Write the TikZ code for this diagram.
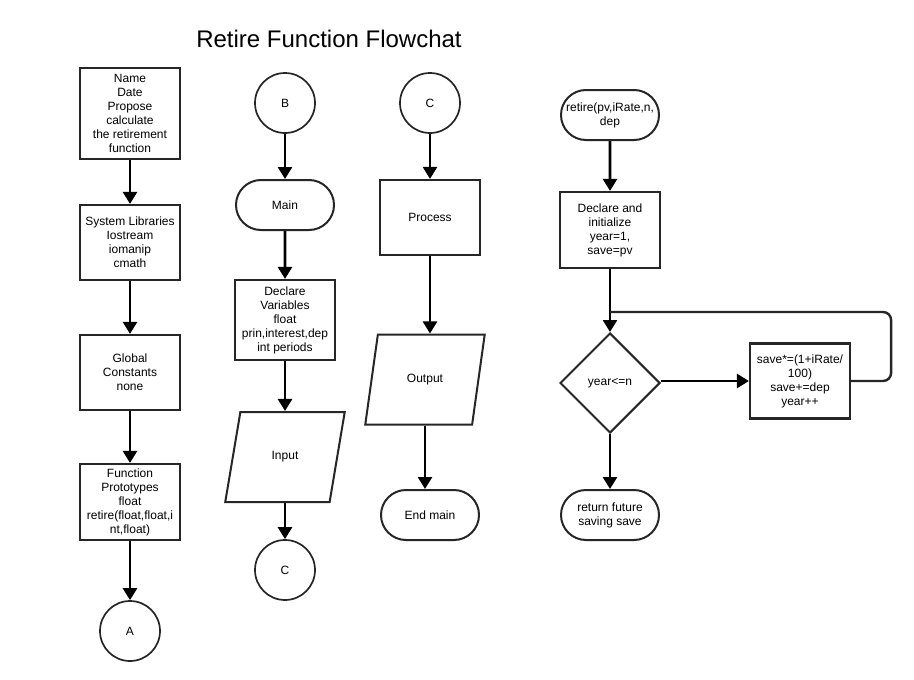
\documentclass[tikz,border=0pt]{standalone}
\usepackage{fontspec}
\setmainfont{Liberation Sans}
\usetikzlibrary{shapes.geometric,shapes.misc,arrows.meta}
\tikzstyle{every node}=[font=\fontsize{12}{14}\selectfont, align=center, line width=2.2pt, draw=black!85]
\tikzstyle{block}=[draw, rectangle, minimum width=100pt, minimum height=75pt, inner sep=1pt]
\tikzstyle{term}=[draw, rounded rectangle, minimum width=100pt, minimum height=50pt, inner sep=1pt, line width=2pt]
\tikzstyle{conn}=[draw, circle, minimum size=60pt, line width=1.7pt]
\tikzstyle{io}=[draw, trapezium, trapezium left angle=72, trapezium right angle=108, trapezium stretches=true, minimum width=120pt, minimum height=90pt, line width=2pt]
\tikzstyle{decision}=[draw, diamond, minimum width=100pt, minimum height=100pt, line width=2pt]
\tikzstyle{line}=[draw, -{Triangle[width=14pt,length=12pt]}, line width=2.6pt]
\tikzstyle{back}=[draw, line width=2.4pt, black!85, rounded corners=8pt]

\begin{document}
\begin{tikzpicture}[x=1pt, y=-1pt]
    \useasboundingbox (0,0) rectangle (914,680);
    \node [draw=none, font=\fontsize{24}{28}\selectfont] (title) at (329,39) {Retire Function Flowchat};

    \node [block, minimum height=91pt] (head) at (130,113.5) {Name\\Date\\Propose\\calculate\\the retirement\\function};
    \node [block] (libs) at (130,242.5) {System Libraries\\Iostream\\iomanip\\cmath};
    \node [block] (const) at (130,372.5) {Global\\Constants\\none};
    \node [block, minimum height=76pt] (proto) at (130,502) {Function\\Prototypes\\float\\retire(float,float,i\\nt,float)};
    \node [conn] (conA) at (130,631) {A};

    \node [conn] (conB) at (285,103) {B};
    \node [term] (main) at (285,205) {Main};
    \node [block, minimum height=80pt] (vars) at (285,320) {Declare\\Variables\\float\\prin,interest,dep\\ int periods};
    \node [io] (input) at (285,457) {Input};
    \node [conn] (conC) at (285,570) {C};

    \node [conn] (conC2) at (430,103) {C};
    \node [block] (proc) at (430,217.5) {Process};
    \node [io] (output) at (425,379.5) {Output};
    \node [term] (endm) at (430,515) {End main};

    \node [term] (retire) at (610,115) {retire(pv,iRate,n,\\dep};
    \node [block, minimum height=76pt] (init) at (610,230) {Declare and\\initialize\\year=1,\\save=pv};
    \node [decision] (test) at (610,383) {year<=n};
    \node [block] (update) at (800,381) {save*=(1+iRate/\\100)\\save+=dep\\year++};
    \node [term] (ret) at (610,515) {return future\\saving save};
    \coordinate (join) at (610,312);

    \draw [line] (head) -- (libs);
    \draw [line] (libs) -- (const);
    \draw [line] (const) -- (proto);
    \draw [line] (proto) -- (conA);

    \draw [line] (conB) -- (main);
    \draw [line] (main) -- (vars);
    \draw [line] (vars.south) -- (vars.south |- input.north);
    \draw [line] (input.south -| conC) -- (conC);

    \draw [line] (conC2) -- (proc);
    \draw [line] (proc.south) -- (proc.south |- output.north);
    \draw [line] (output.south) -- (output.south |- endm.north);

    \draw [line] (retire) -- (init);
    \draw [line] (init) -- (test);
    \draw [line] (test.east |- update) -- (update.west);
    \draw [back] (update.east) -- ++(40,0) |- (join);
    \draw [line] (test) -- (ret);
\end{tikzpicture}
\end{document}
